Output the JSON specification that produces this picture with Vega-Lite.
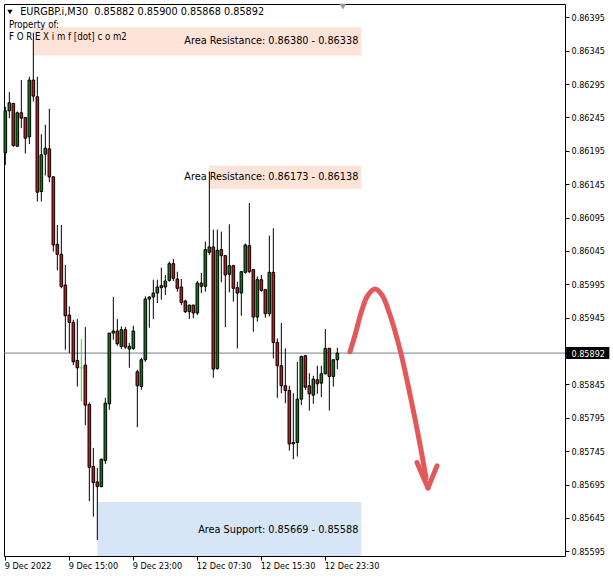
{
  "$schema": "https://vega.github.io/schema/vega-lite/v6.json",
  "width": 561,
  "height": 552,
  "autosize": {"type": "none"},
  "padding": {"left": 4, "top": 4, "right": 48, "bottom": 23},
  "background": "white",
  "config": {
    "view": {"stroke": "black", "strokeWidth": 1},
    "font": "DejaVu Sans Condensed, DejaVu Sans, sans-serif",
    "scale": {"continuousPadding": 0},
    "axis": {"labelFont": "DejaVu Sans Condensed, DejaVu Sans, sans-serif", "labelFontSize": 9, "labelColor": "black", "tickColor": "black", "domain": false, "grid": false, "title": null, "labelOverlap": false}
  },
  "datasets": {
    "candles": [
      {"i":0,"o":0.86192,"h":0.86261,"l":0.86174,"c":0.86255},
      {"i":1,"o":0.86255,"h":0.86283,"l":0.86244,"c":0.86267},
      {"i":2,"o":0.86266,"h":0.86267,"l":0.86201,"c":0.86203},
      {"i":3,"o":0.86202,"h":0.86254,"l":0.86201,"c":0.86252},
      {"i":4,"o":0.86252,"h":0.86301,"l":0.86229,"c":0.86244},
      {"i":5,"o":0.86245,"h":0.86245,"l":0.86191,"c":0.86214},
      {"i":6,"o":0.86216,"h":0.86306,"l":0.86205,"c":0.86301},
      {"i":7,"o":0.86301,"h":0.86372,"l":0.86269,"c":0.86277},
      {"i":8,"o":0.86276,"h":0.86306,"l":0.86119,"c":0.86133},
      {"i":9,"o":0.86134,"h":0.8622,"l":0.86119,"c":0.86189},
      {"i":10,"o":0.8619,"h":0.86234,"l":0.86158,"c":0.86199},
      {"i":11,"o":0.86198,"h":0.86258,"l":0.86148,"c":0.86156},
      {"i":12,"o":0.86156,"h":0.86157,"l":0.86044,"c":0.86054},
      {"i":13,"o":0.86055,"h":0.86084,"l":0.86016,"c":0.8604},
      {"i":14,"o":0.8604,"h":0.86084,"l":0.85989,"c":0.85992},
      {"i":15,"o":0.85994,"h":0.86024,"l":0.85897,"c":0.85948},
      {"i":16,"o":0.85949,"h":0.85962,"l":0.85892,"c":0.85938},
      {"i":17,"o":0.85938,"h":0.85942,"l":0.85874,"c":0.85879},
      {"i":18,"o":0.85881,"h":0.85943,"l":0.85842,"c":0.8587},
      {"i":19,"o":0.8587,"h":0.85913,"l":0.8582,"c":0.8587},
      {"i":20,"o":0.85874,"h":0.85931,"l":0.85784,"c":0.85814},
      {"i":21,"o":0.85815,"h":0.85818,"l":0.8567,"c":0.85721},
      {"i":22,"o":0.85722,"h":0.8575,"l":0.85647,"c":0.85698},
      {"i":23,"o":0.85699,"h":0.8572,"l":0.85612,"c":0.85692},
      {"i":24,"o":0.85692,"h":0.85734,"l":0.85691,"c":0.85733},
      {"i":25,"o":0.85731,"h":0.85825,"l":0.85726,"c":0.85817},
      {"i":26,"o":0.85816,"h":0.85922,"l":0.85807,"c":0.85922},
      {"i":27,"o":0.85922,"h":0.85976,"l":0.85912,"c":0.85925},
      {"i":28,"o":0.85925,"h":0.85943,"l":0.85903,"c":0.85906},
      {"i":29,"o":0.85902,"h":0.85932,"l":0.85898,"c":0.85927},
      {"i":30,"o":0.85927,"h":0.85931,"l":0.85898,"c":0.85901},
      {"i":31,"o":0.85898,"h":0.85907,"l":0.8587,"c":0.85902},
      {"i":32,"o":0.85899,"h":0.85933,"l":0.85897,"c":0.85925},
      {"i":33,"o":0.85864,"h":0.85867,"l":0.85781,"c":0.85843},
      {"i":34,"o":0.85842,"h":0.85885,"l":0.85837,"c":0.85882},
      {"i":35,"o":0.85882,"h":0.85977,"l":0.85879,"c":0.85973},
      {"i":36,"o":0.85973,"h":0.85977,"l":0.8593,"c":0.85976},
      {"i":37,"o":0.85976,"h":0.86002,"l":0.85943,"c":0.85982},
      {"i":38,"o":0.85982,"h":0.86002,"l":0.85967,"c":0.85991},
      {"i":39,"o":0.85993,"h":0.8602,"l":0.85972,"c":0.8599},
      {"i":40,"o":0.85991,"h":0.86009,"l":0.85979,"c":0.86},
      {"i":41,"o":0.86001,"h":0.86029,"l":0.85999,"c":0.86026},
      {"i":42,"o":0.86026,"h":0.86033,"l":0.86,"c":0.86004},
      {"i":43,"o":0.86003,"h":0.86014,"l":0.85984,"c":0.85989},
      {"i":44,"o":0.85991,"h":0.86003,"l":0.85964,"c":0.85968},
      {"i":45,"o":0.8597,"h":0.85972,"l":0.85952,"c":0.85954},
      {"i":46,"o":0.85954,"h":0.85964,"l":0.85943,"c":0.85964},
      {"i":47,"o":0.85964,"h":0.85964,"l":0.85944,"c":0.85952},
      {"i":48,"o":0.85952,"h":0.86,"l":0.85949,"c":0.85997},
      {"i":49,"o":0.85997,"h":0.86012,"l":0.85982,"c":0.85992},
      {"i":50,"o":0.85992,"h":0.86059,"l":0.85984,"c":0.86047},
      {"i":51,"o":0.86043,"h":0.86164,"l":0.86039,"c":0.86051},
      {"i":52,"o":0.86051,"h":0.86077,"l":0.85855,"c":0.85868},
      {"i":53,"o":0.85869,"h":0.86077,"l":0.85867,"c":0.86046},
      {"i":54,"o":0.86047,"h":0.86074,"l":0.85998,"c":0.86038},
      {"i":55,"o":0.86038,"h":0.86039,"l":0.85931,"c":0.86009},
      {"i":56,"o":0.8601,"h":0.86085,"l":0.85983,"c":0.86023},
      {"i":57,"o":0.86023,"h":0.86024,"l":0.85969,"c":0.85989},
      {"i":58,"o":0.8599,"h":0.85999,"l":0.85899,"c":0.85982},
      {"i":59,"o":0.85982,"h":0.86015,"l":0.85948,"c":0.86014},
      {"i":60,"o":0.86013,"h":0.86056,"l":0.86011,"c":0.86054},
      {"i":61,"o":0.86053,"h":0.86117,"l":0.86012,"c":0.86014},
      {"i":62,"o":0.86017,"h":0.86017,"l":0.85924,"c":0.85946},
      {"i":63,"o":0.85946,"h":0.86007,"l":0.85939,"c":0.86002},
      {"i":64,"o":0.86002,"h":0.86009,"l":0.85984,"c":0.85986},
      {"i":65,"o":0.85987,"h":0.85987,"l":0.85945,"c":0.85951},
      {"i":66,"o":0.85951,"h":0.86068,"l":0.85947,"c":0.86013},
      {"i":67,"o":0.86013,"h":0.86079,"l":0.85884,"c":0.85908},
      {"i":68,"o":0.85908,"h":0.85914,"l":0.85825,"c":0.85873},
      {"i":69,"o":0.85873,"h":0.85937,"l":0.85832,"c":0.85843},
      {"i":70,"o":0.85843,"h":0.85899,"l":0.85817,"c":0.85836},
      {"i":71,"o":0.85836,"h":0.85843,"l":0.85746,"c":0.85756},
      {"i":72,"o":0.85758,"h":0.85832,"l":0.85733,"c":0.85756},
      {"i":73,"o":0.85758,"h":0.85879,"l":0.85737,"c":0.85823},
      {"i":74,"o":0.85823,"h":0.85888,"l":0.85814,"c":0.85887},
      {"i":75,"o":0.85888,"h":0.85889,"l":0.85837,"c":0.85841},
      {"i":76,"o":0.85843,"h":0.85862,"l":0.85806,"c":0.85831},
      {"i":77,"o":0.85829,"h":0.85858,"l":0.85816,"c":0.85853},
      {"i":78,"o":0.85852,"h":0.85873,"l":0.85831,"c":0.85846},
      {"i":79,"o":0.85847,"h":0.85873,"l":0.85826,"c":0.85861},
      {"i":80,"o":0.85861,"h":0.85928,"l":0.8586,"c":0.85899},
      {"i":81,"o":0.85899,"h":0.859,"l":0.85806,"c":0.85857},
      {"i":82,"o":0.85857,"h":0.85882,"l":0.85842,"c":0.85882},
      {"i":83,"o":0.85882,"h":0.859,"l":0.85868,"c":0.85892}
    ],
    "zones": [
      {"kind":"res","x1":7,"x2":89,"lo":0.86338,"hi":0.8638,"mid":0.86359,"label":"Area Resistance: 0.86380 - 0.86338"},
      {"kind":"res","x1":51,"x2":89,"lo":0.86138,"hi":0.86173,"mid":0.861555,"label":"Area Resistance: 0.86173 - 0.86138"},
      {"kind":"sup","x1":23,"x2":89,"lo":0.85588,"hi":0.85669,"mid":0.85627,"label":"Area Support: 0.85669 - 0.85588"}
    ],
    "title": [
      {"i":3.7,"p":0.86403,"t":"EURGBP.i,M30\u00a0 0.85882 0.85900 0.85868 0.85892"}
    ],
    "notes": [
      {"i":0.9,"p":0.86384,"t":"Property of:"},
      {"i":0.9,"p":0.86366,"t":"F O R E X i m f [dot] c o m2"}
    ],
    "arrow": [
      {"k":0,"i":86.17,"p":0.85894},
      {"k":1,"i":87.42,"p":0.85919},
      {"k":2,"i":89.17,"p":0.85957},
      {"k":3,"i":90.67,"p":0.85979},
      {"k":4,"i":92.42,"p":0.85988},
      {"k":5,"i":94.17,"p":0.85979},
      {"k":6,"i":96.17,"p":0.85949},
      {"k":7,"i":98.67,"p":0.85897},
      {"k":8,"i":101.17,"p":0.8583},
      {"k":9,"i":103.67,"p":0.85755},
      {"k":10,"i":105.17,"p":0.85705}
    ],
    "head": [
      {"seg":"a","k":0,"i":102.92,"p":0.85728},
      {"seg":"a","k":1,"i":105.67,"p":0.8569},
      {"seg":"b","k":0,"i":107.92,"p":0.85723},
      {"seg":"b","k":1,"i":105.67,"p":0.8569}
    ],
    "one": [{}]
  },
  "layer": [
    {
      "data": {"name": "zones"},
      "mark": {"type": "rect"},
      "encoding": {
        "x": {"field": "x1", "type": "quantitative", "scale": {"domain": [-0.333, 139.917], "nice": false, "zero": false, "padding": 0},
              "axis": {"title": null, "values": [0, 16, 32, 48, 64, 80], "tickCount": 20, "labelAlign": "left", "tickSize": 4, "labelPadding": 1, "labelOffset": -1, "labelOverlap": false,
                       "labelExpr": "datum.value == 0 ? '9 Dec 2022' : datum.value == 16 ? '9 Dec 15:00' : datum.value == 32 ? '9 Dec 23:00' : datum.value == 48 ? '12 Dec 07:30' : datum.value == 64 ? '12 Dec 15:30' : '12 Dec 23:30'"}},
        "x2": {"field": "x2"},
        "y": {"field": "lo", "type": "quantitative", "scale": {"domain": [0.85588, 0.86415], "nice": false, "zero": false, "padding": 0},
              "axis": {"title": null, "orient": "right", "zindex": 1, "tickSize": 4, "labelPadding": 2, "format": ".5f", "labelOverlap": false, "tickCount": 40,
                       "values": [0.85595, 0.85645, 0.85695, 0.85745, 0.85795, 0.85845, 0.85892, 0.85945, 0.85995, 0.86045, 0.86095, 0.86145, 0.86195, 0.86245, 0.86295, 0.86345, 0.86395],
                       "labelColor": {"condition": {"test": "datum.value == 0.85892", "value": "white"}, "value": "black"}}},
        "y2": {"field": "hi"},
        "color": {"field": "kind", "type": "nominal", "scale": {"domain": ["res", "sup"], "range": ["#fde3d8", "#d6e6f6"]}, "legend": null}
      }
    },
    {
      "data": {"name": "one"},
      "mark": {"type": "rule", "color": "#74808c", "strokeWidth": 1},
      "encoding": {"y": {"datum": 0.85892, "type": "quantitative"}}
    },
    {
      "data": {"name": "candles"},
      "mark": {"type": "rule", "strokeWidth": 1},
      "encoding": {
        "x": {"field": "i", "type": "quantitative"},
        "y": {"field": "l", "type": "quantitative"},
        "y2": {"field": "h"},
        "color": {"condition": {"test": "datum.o == datum.c", "value": "#00ff00"}, "value": "black"}
      }
    },
    {
      "data": {"name": "candles"},
      "transform": [{"filter": "datum.o != datum.c"}],
      "mark": {"type": "bar", "size": 2.6, "stroke": "black", "strokeWidth": 1},
      "encoding": {
        "x": {"field": "i", "type": "quantitative"},
        "y": {"field": "o", "type": "quantitative"},
        "y2": {"field": "c"},
        "fill": {"condition": {"test": "datum.c > datum.o", "value": "#0a800a"}, "value": "#e01010"}
      }
    },
    {
      "data": {"name": "candles"},
      "transform": [{"filter": "datum.o == datum.c"}],
      "mark": {"type": "tick", "orient": "horizontal", "size": 4, "thickness": 1, "color": "#00ff00"},
      "encoding": {
        "x": {"field": "i", "type": "quantitative"},
        "y": {"field": "o", "type": "quantitative"}
      }
    },
    {
      "data": {"name": "zones"},
      "mark": {"type": "text", "align": "right", "baseline": "middle", "fontSize": 10.8, "color": "black", "dx": -3},
      "encoding": {
        "x": {"field": "x2", "type": "quantitative"},
        "y": {"field": "mid", "type": "quantitative"},
        "text": {"field": "label"}
      }
    },
    {
      "data": {"name": "title"},
      "mark": {"type": "text", "align": "left", "baseline": "middle", "fontSize": 10.8, "color": "black"},
      "encoding": {
        "x": {"field": "i", "type": "quantitative"},
        "y": {"field": "p", "type": "quantitative"},
        "text": {"field": "t"}
      }
    },
    {
      "data": {"name": "notes"},
      "mark": {"type": "text", "align": "left", "baseline": "middle", "fontSize": 9.6, "color": "black"},
      "encoding": {
        "x": {"field": "i", "type": "quantitative"},
        "y": {"field": "p", "type": "quantitative"},
        "text": {"field": "t"}
      }
    },
    {
      "data": {"name": "one"},
      "mark": {"type": "point", "shape": "triangle-down", "filled": true, "size": 28, "color": "black", "opacity": 1},
      "encoding": {"x": {"datum": 1.15, "type": "quantitative"}, "y": {"datum": 0.86403, "type": "quantitative"}}
    },
    {
      "data": {"name": "one"},
      "mark": {"type": "point", "shape": "triangle-down", "filled": true, "size": 45, "color": "#8d99a6", "opacity": 1},
      "encoding": {"x": {"datum": 84.4, "type": "quantitative"}, "y": {"datum": 0.86411, "type": "quantitative"}}
    },
    {
      "data": {"name": "arrow"},
      "mark": {"type": "line", "interpolate": "catmull-rom", "strokeWidth": 5, "color": "#e35858", "strokeCap": "round"},
      "encoding": {
        "x": {"field": "i", "type": "quantitative"},
        "y": {"field": "p", "type": "quantitative"},
        "order": {"field": "k"}
      }
    },
    {
      "data": {"name": "head"},
      "mark": {"type": "line", "strokeWidth": 5, "color": "#e35858", "strokeCap": "round"},
      "encoding": {
        "x": {"field": "i", "type": "quantitative"},
        "y": {"field": "p", "type": "quantitative"},
        "detail": {"field": "seg"},
        "order": {"field": "k"}
      }
    },
    {
      "data": {"name": "one"},
      "mark": {"type": "rect", "color": "black"},
      "encoding": {
        "x": {"datum": 140.2, "type": "quantitative"},
        "x2": {"datum": 151.0},
        "y": {"datum": 0.85883, "type": "quantitative"},
        "y2": {"datum": 0.85901}
      }
    }
  ]
}
